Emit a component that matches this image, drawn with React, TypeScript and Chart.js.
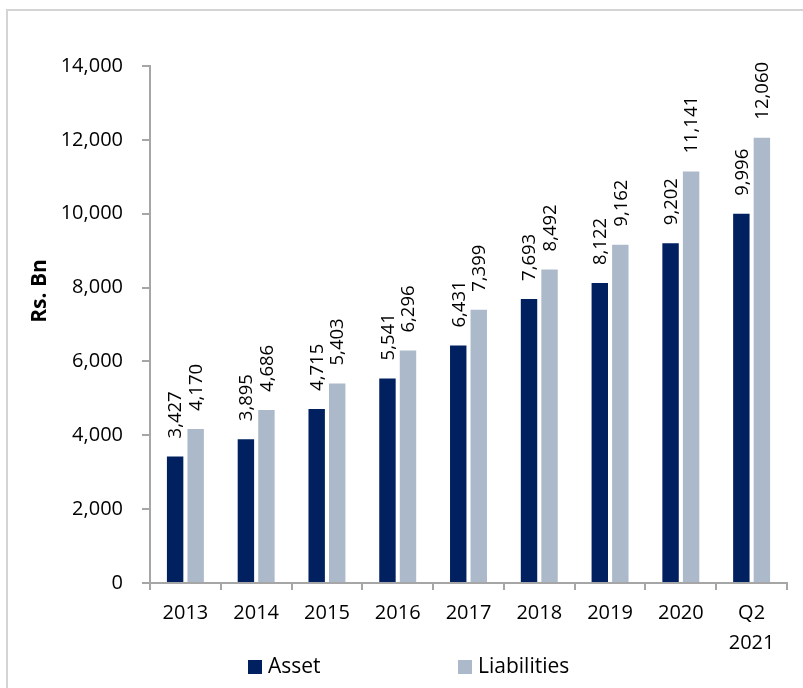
import React, { useEffect, useRef } from "react";
import { Chart, registerables } from "chart.js";

Chart.register(...registerables);

const categories: (string | string[])[] = ["2013", "2014", "2015", "2016", "2017", "2018", "2019", "2020", ["Q2", "2021"]];
const assetValues = [3427, 3895, 4715, 5541, 6431, 7693, 8122, 9202, 9996];
const liabilityValues = [4170, 4686, 5403, 6296, 7399, 8492, 9162, 11141, 12060];
const seriesNames = ["Asset", "Liabilities"];
const seriesColors = ["#002060", "#ACB9CA"];
const yMin = 0;
const yMax = 14000;
const yStep = 2000;
const yTitle = "Rs. Bn";

const FONT = "'Open Sans', 'Noto Sans', sans-serif";
const AXIS_COLOR = "#a6a6a6";

const labelsPlugin = {
  id: "valueLabels",
  afterDatasetsDraw(chart: any) {
    const ctx = chart.ctx;
    ctx.save();
    ctx.fillStyle = "#000";
    ctx.font = `18.5px ${FONT}`;
    ctx.textAlign = "left";
    ctx.textBaseline = "middle";
    chart.data.datasets.forEach((ds: any, di: number) => {
      const meta = chart.getDatasetMeta(di);
      meta.data.forEach((bar: any, i: number) => {
        const v = ds.data[i] as number;
        ctx.save();
        ctx.translate(bar.x, bar.y - 18);
        ctx.rotate(-Math.PI / 2);
        ctx.fillText(v.toLocaleString("en-US"), 0, 1);
        ctx.restore();
      });
    });
    ctx.restore();
  },
};

const extrasPlugin = {
  id: "extras",
  afterDraw(chart: any) {
    const ctx = chart.ctx;
    ctx.save();
    // y title
    ctx.fillStyle = "#000";
    ctx.font = `bold 21px ${FONT}`;
    ctx.textAlign = "center";
    ctx.textBaseline = "middle";
    ctx.translate(33, 281);
    ctx.rotate(-Math.PI / 2);
    ctx.fillText(yTitle, 0, 0);
    ctx.restore();

    // legend
    ctx.save();
    ctx.font = `21px ${FONT}`;
    ctx.textBaseline = "middle";
    ctx.textAlign = "left";
    const startX = 241;
    const spacing = 210;
    const cy = 657;
    chart.data.datasets.forEach((ds: any, i: number) => {
      const x = startX + i * spacing;
      ctx.fillStyle = ds.backgroundColor;
      ctx.fillRect(x, cy - 7, 14, 14);
      ctx.fillStyle = "#000";
      ctx.fillText(ds.label, x + 20, cy);
    });
    ctx.restore();
  },
};

export default function App() {
  const ref = useRef<HTMLCanvasElement>(null);

  useEffect(() => {
    if (!ref.current) return;
    const chart = new Chart(ref.current, {
      type: "bar",
      data: {
        labels: categories as any,
        datasets: [
          { label: seriesNames[0], data: assetValues, backgroundColor: seriesColors[0] },
          { label: seriesNames[1], data: liabilityValues, backgroundColor: seriesColors[1] },
        ],
      },
      options: {
        responsive: false,
        animation: false,
        maintainAspectRatio: false,
        layout: { padding: { left: 0, top: 56, right: 16, bottom: 0 } },
        datasets: { bar: { categoryPercentage: 0.58, barPercentage: 0.8 } } as any,
        plugins: {
          legend: { display: false },
          tooltip: { enabled: false },
          title: { display: false },
        },
        scales: {
          x: {
            grid: {
              display: true,
              drawOnChartArea: false,
              drawTicks: true,
              tickLength: 7,
              color: AXIS_COLOR,
              lineWidth: 2,
              offset: true,
            },
            border: { display: true, color: AXIS_COLOR, width: 2 },
            ticks: {
              color: "#000",
              font: { family: FONT, size: 20, lineHeight: 1.5 },
              padding: 8,
              maxRotation: 0,
              autoSkip: false,
            },
            afterFit: (s: any) => {
              s.height = 105;
            },
          },
          y: {
            min: yMin,
            max: yMax,
            grid: {
              display: true,
              drawOnChartArea: false,
              drawTicks: true,
              tickLength: 8,
              color: AXIS_COLOR,
              lineWidth: 2,
            },
            border: { display: true, color: AXIS_COLOR, width: 2 },
            ticks: {
              stepSize: yStep,
              color: "#000",
              font: { family: FONT, size: 20 },
              padding: 19,
              callback: (v: any) => Number(v).toLocaleString("en-US"),
            },
            afterFit: (s: any) => {
              s.width = 143;
            },
          },
        },
      },
      plugins: [labelsPlugin, extrasPlugin],
    });
    return () => chart.destroy();
  }, []);

  return (
    <div style={{ position: "fixed", inset: 0, overflow: "hidden", background: "#fff" }}>
      <div
        style={{
          position: "absolute",
          left: 6,
          top: 9,
          width: 830,
          height: 720,
          border: "2px solid #d4d4d4",
          boxSizing: "border-box",
        }}
      />
      <canvas
        ref={ref}
        width={796}
        height={678}
        style={{ position: "absolute", left: 7, top: 10, width: 796, height: 678 }}
      />
    </div>
  );
}
